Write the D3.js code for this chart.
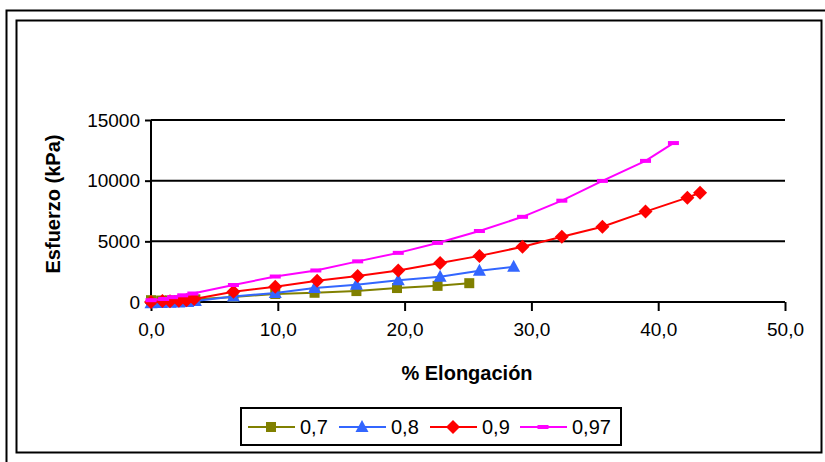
<!DOCTYPE html>
<html>
<head>
<meta charset="utf-8">
<script src="https://cdn.jsdelivr.net/npm/d3@7"></script>
<style>
  html, body { margin: 0; padding: 0; background: #fff; }
  svg { display: block; font-family: "Liberation Sans", Arial, sans-serif; }
</style>
</head>
<body>
<svg id="chart" width="825" height="462"></svg>
<script>
"use strict";

// ── data ─────────────────────────────────────────────────────────────────────
const seriesNames = ["0,7", "0,8", "0,9", "0,97"];

const x07 = [0.0, 0.8, 1.5, 2.2, 2.9, 3.5, 6.5, 9.8, 12.9, 16.2, 19.4, 22.6, 25.1];
const y07 = [150, 120, 130, 150, 180, 220, 420, 660, 760, 900, 1150, 1330, 1550];

const x08 = [0.0, 0.8, 1.5, 2.2, 2.9, 3.5, 6.5, 9.8, 12.9, 16.2, 19.5, 22.8, 25.9, 28.6];
const y08 = [-100, -80, -60, -40, 0, 80, 450, 750, 1150, 1420, 1800, 2080, 2580, 2900];

const x09 = [0.0, 0.9, 1.5, 2.2, 2.8, 3.4, 6.5, 9.8, 13.1, 16.3, 19.5, 22.8, 25.9, 29.3, 32.4, 35.6, 39.0, 42.3, 43.3];
const y09 = [0, 80, 60, 100, 150, 250, 850, 1250, 1750, 2150, 2600, 3220, 3800, 4550, 5380, 6200, 7450, 8600, 9000];

const x097 = [0.0, 1.0, 1.7, 2.5, 3.3, 6.5, 9.8, 13.0, 16.3, 19.5, 22.6, 25.9, 29.3, 32.4, 35.6, 39.0, 41.2];
const y097 = [150, 250, 400, 550, 700, 1400, 2100, 2600, 3350, 4050, 4870, 5850, 7020, 8350, 9980, 11630, 13100];

const xTicks = [0, 10, 20, 30, 40, 50];
const yTicks = [0, 5000, 10000, 15000];

// ── styles ───────────────────────────────────────────────────────────────────
const COLORS  = ["#808000", "#3366ff", "#ff0000", "#ff00ff"];
const MARKERS = ["square", "triangle", "diamond", "dash"];

const series = [
  { xs: x07,  ys: y07 },
  { xs: x08,  ys: y08 },
  { xs: x09,  ys: y09 },
  { xs: x097, ys: y097 },
].map((s, i) => ({
  name: seriesNames[i], color: COLORS[i], marker: MARKERS[i],
  points: s.xs.map((x, j) => ({ x, y: s.ys[j] })),
}));

const svg = d3.select("#chart");

// outer double frame
svg.append("rect").attr("x", 6.5).attr("y", 10.5).attr("width", 840).attr("height", 470)
  .attr("fill", "none").attr("stroke", "#000").attr("stroke-width", 2);
svg.append("rect").attr("x", 16.5).attr("y", 20.5).attr("width", 805).attr("height", 432)
  .attr("fill", "none").attr("stroke", "#000").attr("stroke-width", 2);

const x = d3.scaleLinear().domain([0, 50]).range([151, 785]);
const y = d3.scaleLinear().domain([0, 15000]).range([302, 120]);

// gridlines
svg.append("g")
  .selectAll("line").data(yTicks.filter(t => t > 0)).join("line")
  .attr("x1", x(0)).attr("x2", x(50))
  .attr("y1", d => y(d)).attr("y2", d => y(d))
  .attr("stroke", "#000").attr("stroke-width", 2);

// y axis
svg.append("g").attr("transform", `translate(${x(0)},0)`)
  .call(d3.axisLeft(y).tickValues(yTicks).tickSize(6).tickPadding(5).tickFormat(d3.format("d")))
  .call(ax => {
    ax.select(".domain").attr("stroke", "#000").attr("stroke-width", 2).attr("d", `M0,${y(0)}V${y(15000)}`);
    ax.selectAll(".tick line").attr("stroke", "#000").attr("stroke-width", 2);
    ax.selectAll("text").attr("font-size", 19).attr("fill", "#000").attr("font-family", "Liberation Sans, Arial");
  });

// x axis
const fmtX = d => d3.format(".1f")(d).replace(".", ",");
svg.append("g").attr("transform", `translate(0,${y(0)})`)
  .call(d3.axisBottom(x).tickValues(xTicks).tickSize(9).tickPadding(12).tickFormat(fmtX))
  .call(ax => {
    ax.select(".domain").attr("stroke", "#000").attr("stroke-width", 2).attr("d", `M${x(0)},0H${x(50)}`);
    ax.selectAll(".tick line").attr("stroke", "#000").attr("stroke-width", 2);
    ax.selectAll("text").attr("font-size", 19).attr("fill", "#000").attr("font-family", "Liberation Sans, Arial");
  });

// axis titles
svg.append("text").attr("x", 467).attr("y", 380).attr("text-anchor", "middle")
  .attr("font-size", 20).attr("font-weight", "bold").text("% Elongación");
svg.append("text").attr("transform", "translate(60,204) rotate(-90)").attr("text-anchor", "middle")
  .attr("font-size", 20).attr("font-weight", "bold").text("Esfuerzo (kPa)");

// markers
function drawMarker(sel, kind, color) {
  if (kind === "square") {
    sel.append("rect").attr("x", -5).attr("y", -5).attr("width", 10).attr("height", 10).attr("fill", color);
  } else if (kind === "triangle") {
    sel.append("path").attr("d", "M0,-7L6.5,5H-6.5Z").attr("fill", color);
  } else if (kind === "diamond") {
    sel.append("path").attr("d", "M0,-7L7,0L0,7L-7,0Z").attr("fill", color);
  } else {
    sel.append("rect").attr("x", -5.5).attr("y", -2).attr("width", 11).attr("height", 4).attr("fill", color);
  }
}

const line = d3.line().x(d => x(d.x)).y(d => y(d.y));

const plot = svg.append("g");
series.forEach(s => {
  const g = plot.append("g");
  g.append("path").datum(s.points)
    .attr("fill", "none").attr("stroke", s.color).attr("stroke-width", 2).attr("d", line);
  g.selectAll("g.m").data(s.points).join("g").attr("class", "m")
    .attr("transform", d => `translate(${x(d.x)},${y(d.y)})`)
    .each(function () { drawMarker(d3.select(this), s.marker, s.color); });
});

// legend
const legend = svg.append("g");
legend.append("rect").attr("x", 241).attr("y", 408).attr("width", 380).attr("height", 37)
  .attr("fill", "#fff").attr("stroke", "#000").attr("stroke-width", 2);
const legX = [248, 339, 430, 520];
series.forEach((s, i) => {
  const g = legend.append("g").attr("transform", `translate(${legX[i]},427)`);
  g.append("line").attr("x1", 0).attr("x2", 47).attr("stroke", s.color).attr("stroke-width", 2);
  drawMarker(g.append("g").attr("transform", "translate(23,0)"), s.marker, s.color);
  g.append("text").attr("x", 52).attr("y", 7).attr("font-size", 20).text(s.name);
});
</script>
</body>
</html>
